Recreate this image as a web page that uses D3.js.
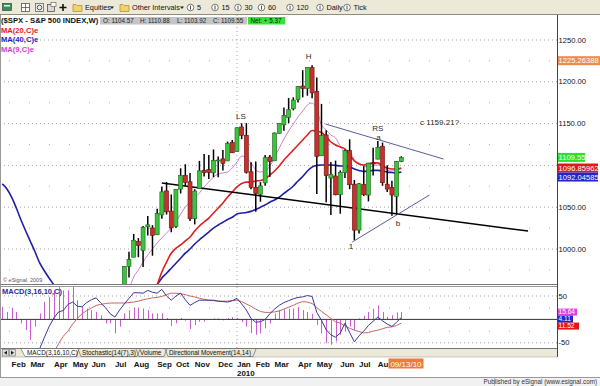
<!DOCTYPE html>
<html>
<head>
<meta charset="utf-8">
<script src="https://cdn.jsdelivr.net/npm/d3@7"></script>
<style>
  html, body { margin: 0; padding: 0; background: #fff; }
  svg { display: block; font-family: "Liberation Sans", Arial, sans-serif; }
</style>
</head>
<body>
<svg id="chart" width="600" height="386"></svg>
<script>
const studyStart = '2009-01-19'
const barStart = '2009-07-20'
const lastBar = '2010-09-06'
const cursorDate = '2010-09-13'

const opens = [940.2, 979.3, 990.2, 1008.9, 998.2, 1026.6, 1025.2, 1017.0, 1040.8, 1069.5,
  1045.4, 1026.9, 1071.6, 1088.2, 1080.4, 1036.2, 1072.3, 1094.1, 1094.9, 1091.1,
  1105.5, 1107.8, 1105.3, 1127.5, 1116.6, 1146.0, 1136.0, 1092.4, 1073.9, 1065.5,
  1079.1, 1110.0, 1105.4, 1138.4, 1148.5, 1157.3, 1167.7, 1178.7, 1194.9, 1192.1,
  1217.1, 1188.6, 1111.5, 1136.5, 1084.8, 1087.3, 1064.9, 1091.2, 1117.7, 1077.5,
  1022.6, 1077.2, 1064.5, 1102.9, 1107.5, 1122.8, 1077.6, 1073.4, 1062.9, 1104.6]
const highs = [979.4, 996.7, 1018.0, 1013.1, 1027.6, 1039.5, 1028.5, 1048.2, 1074.8, 1080.2,
  1065.1, 1071.5, 1096.6, 1101.4, 1091.0, 1071.5, 1105.4, 1113.7, 1112.4, 1119.1,
  1110.7, 1118.4, 1128.5, 1130.4, 1145.4, 1150.4, 1150.5, 1103.7, 1104.7, 1080.0,
  1112.4, 1112.3, 1139.4, 1150.2, 1169.2, 1180.7, 1181.4, 1194.7, 1213.9, 1217.3,
  1219.8, 1205.1, 1173.6, 1141.9, 1104.2, 1105.7, 1094.0, 1119.1, 1131.2, 1082.6,
  1078.9, 1099.1, 1103.1, 1121.0, 1129.2, 1127.3, 1100.1, 1081.6, 1105.1, 1110.9]
const lows = [940.2, 966.0, 990.2, 990.2, 978.5, 1016.2, 992.0, 1017.0, 1036.1, 1041.2,
  1020.0, 1025.2, 1066.4, 1075.5, 1033.4, 1029.4, 1072.3, 1086.8, 1083.7, 1085.9,
  1085.9, 1093.9, 1105.3, 1114.8, 1116.6, 1131.4, 1090.2, 1071.6, 1044.5, 1056.5,
  1075.6, 1086.0, 1105.4, 1138.1, 1141.5, 1150.5, 1165.8, 1175.1, 1181.4, 1183.4,
  1180.3, 1065.8, 1111.5, 1055.9, 1040.8, 1064.2, 1042.2, 1084.8, 1071.5, 1010.9,
  1018.4, 1063.3, 1056.9, 1088.0, 1107.5, 1075.6, 1068.1, 1039.7, 1040.9, 1103.9]
const closes = [979.3, 987.5, 1010.5, 1004.1, 1026.1, 1028.9, 1016.4, 1042.7, 1068.3, 1044.4,
  1025.2, 1071.5, 1087.7, 1079.6, 1036.2, 1069.3, 1093.5, 1091.4, 1091.5, 1106.0,
  1106.4, 1102.5, 1126.5, 1115.1, 1145.0, 1136.0, 1091.8, 1073.9, 1066.2, 1075.5,
  1109.2, 1104.5, 1138.7, 1150.0, 1159.9, 1166.6, 1178.1, 1194.4, 1192.1, 1217.3,
  1186.7, 1110.9, 1135.7, 1087.7, 1089.4, 1064.9, 1091.6, 1117.5, 1076.8, 1022.6,
  1078.0, 1064.9, 1102.7, 1101.6, 1121.6, 1079.3, 1071.7, 1064.6, 1104.5, 1109.6]

// moving averages, one value per week from studyStart (null = not on the chart)
const n = null
const ma9 = [n, n, n, n, n, n, n, n, n, n, n, n, n, n, n, n, n, n, n, n, n, n, n, n, n, n, n,
  951, 966.5, 975, 984.4, 992.8, 1000, 1007.2, 1013.2, 1019.1,
  1025.1, 1032.3, 1041.9, 1050.2, 1056.2, 1061, 1067, 1074.2, 1080.2, 1086.1,
  1089.7, 1091, 1092.2, 1096.9, 1104.1, 1111.2, 1108.9, 1102.9, 1094.5, 1092.1,
  1093.3, 1099.3, 1108.9, 1120.8, 1131.6, 1141.1, 1149.5, 1157.9, 1165, 1172.2,
  1174.6, 1167.5, 1148.3, 1142.3, 1136.4, 1132.8, 1123.2, 1116, 1116, 1106.5,
  1102.9, 1099.3, 1098, 1099.3, 1100.5, 1098, 1094.5, 1093.3, 1094.5, 1095.7]
const ma20 = [n, n, n, n, n, n, n, n, n, n, n, n, n, n, n, n, n, n, n, n, n, n, n, n, n, n, n, n, n, n, n, n, n,
  957, 972.5, 984.4,
  995, 1001, 1004.8, 1009.6, 1014.4, 1021.5, 1027.5, 1032.3, 1037, 1043,
  1049, 1055, 1062.2, 1068.2, 1074.2, 1078.3, 1080, 1080, 1081.3, 1082,
  1083.7, 1088.5, 1093.3, 1099.3, 1106.5, 1112.4, 1118.4, 1124.4, 1130.4, 1136.4,
  1141.7, 1141.1, 1139.3, 1134, 1128, 1124.4, 1122, 1119.6, 1112.4, 1105.3,
  1101.7, 1100.5, 1101.7, 1103, 1103, 1099.3, 1096.9, 1095.7, 1095.7, 1096.86]
const ma40 = [1077.8, 1071.8, 1062, 1049, 1034.7, 1021.5, 1009, 996.4, 983, 973.7, 965, 957, 948,
  n, n, n, n, n, n, n, n, n, n, n, n, n, n, n, n, n, n, n, n,
  957, 965.3, 971,
  977, 983, 989, 995, 1000, 1006, 1011, 1015.6, 1020.3, 1025,
  1028.7, 1032, 1035.3, 1038, 1041.9, 1043, 1043.7, 1045, 1047.2, 1050,
  1052.6, 1056, 1058.6, 1062, 1066.6, 1070.6, 1075.4, 1081.3, 1086.8, 1093.3,
  1098, 1100, 1100.5, 1100.5, 1100.5, 1100, 1099.3, 1099.3, 1098, 1095.7,
  1094, 1092.8, 1093.3, 1094, 1094, 1093.3, 1092, 1091.5, 1091, 1092]

// MACD(3,16,10,C), one value per week from studyStart
const macdHist = [26.8, 16, 25, 16, -8.5, -22.6, -43.8, -15.5, 12.7, 37.4, 48, 62, 69, 62, 62, 69, 41,
  26.8, 23.3, 19.8, 16.2, 9, -8.5, -8.5, -29.7, -15.5,
  12.7, 19.8, 25.4, 25.4, 23.3, 19.8, 12.7, 12.7, 12.7, 3,
  -14, -8.5, 3, -3, -21, -12, -5, -5, -1.4, 2,
  2, -2, 3, 5, 3, -6, -15.5, -29.7, -33, -29.7,
  -19, -8.5, 12.7, 19.8, 21, 22, 23.3, 26.8, 20, 16,
  12, -12, -30, -51, -54, -47, -33, -26, -15.5, -22.6,
  2, 8, 16, 23, 30, 16, 5.6, 9, 15, 16]
const macdLine = [n, n, n, n, n, n, n, n,
  -62, -38, -15, 3, 16, 19, 32, 37, 28, 27, 36, 42, 46, 35, 25, 12, 5, 20,
  33, 45, 57, 57, 56, 62, 58, 56, 64, 50,
  41, 50, 56, 42, 30, 36, 41, 41, 41, 41,
  39, 38, 37, 40, 45, 33, 20, 2, -6, -5,
  0, 12, 22, 30, 36, 40, 44, 47, 48, 51,
  49, 15, -2, -22, -33, -38, -29, -8, -28, -48,
  -35, -25, -13, -4, 5, -3, -10, -15, -6, 4]
const signalLine = [n, n, n, n, n, n, n, n, n, n, n,
  -70, -52, -36, -25, -10, 2, 12, 19, 24, 30, 32, 34, 35, 35, 35,
  35, 36, 37, 39, 42, 44, 46, 47, 49, 53,
  56, 56, 55, 53, 50, 48, 45, 43, 41, 40,
  39, 39, 39, 40, 41, 38, 33, 28, 22, 17,
  15, 15, 16, 18, 22, 26, 30, 35, 38, 37,
  34, 25, 17, 10, 2, -5, -8, -14, -19, -23,
  -26, -29, -28, -25, -23, -20, -17, -16, -13, -8]

const priceTicks = [1000, 1050, 1100, 1150, 1200, 1250]
const priceLabels = [1000, 1050, 1150, 1200, 1250] // 1100 sits under the value boxes
const macdTicks = [-50, 50]

// hand-drawn studies and notes on the chart
const trendLines = [
  { from: ['2009-09-14', 1079], to: ['2011-03-14', 1021.5], color: '#000', width: 1.5 },
  { from: ['2010-05-16', 1149.5], to: ['2010-11-08', 1107.6], color: '#5b5ba3', width: 1 },
  { from: ['2010-06-25', 1008.4], to: ['2010-10-18', 1064.6], color: '#5b5ba3', width: 1 }
]
const notes = [
  { text: 'LS', date: '2010-01-10', price: 1159, anchor: 'middle' },
  { text: 'H', date: '2010-04-21', price: 1231, anchor: 'middle' },
  { text: 'RS', date: '2010-08-02', price: 1144, anchor: 'middle' },
  { text: 'a', date: '2010-08-03', price: 1134, anchor: 'middle' },
  { text: 'b', date: '2010-09-01', price: 1031, anchor: 'middle' },
  { text: '1', date: '2010-06-23', price: 1003, anchor: 'middle' },
  { text: 'c 1159.21?', date: '2010-10-04', price: 1152, anchor: 'start' }
]
const priceBoxes = [
  { text: '1225.26388', value: 1225.26388, fill: '#f28a4e', w: 43 },
  { text: '1109.55', value: 1109.55, fill: '#2ee02e', w: 27 },
  { text: '1096.85962', value: 1096.86, fill: '#e01818', w: 40 },
  { text: '1092.04585', value: 1092.0, fill: '#2424c8', w: 40 }
]
const macdBoxes = [
  { text: '15.64', value: 15.64, fill: '#e040e0', w: 19 },
  { text: '4.11', value: 4.11, fill: '#2424c8', w: 15 },
  { text: '11.52', value: -11.52, fill: '#e01818', w: 21 }
]

// ---- setup ----
const parse = d3.timeParse('%Y-%m-%d')
const W = 600
const H = 386
const plotRight = 557
const pricePane = { top: 15, bottom: 284 }
const macdPane = { top: 286, bottom: 348 }

const studyWeeks = d3.timeMonday.range(parse(studyStart), d3.timeDay.offset(parse(lastBar), 1))
const barWeeks = d3.timeMonday.range(parse(barStart), d3.timeDay.offset(parse(lastBar), 1))

const x = d3.scaleTime()
  .domain([parse(barStart), parse(lastBar)])
  .range([124.3, 401.3])
const yPrice = d3.scaleLinear().domain([1000, 1250]).range([249, 40])
const yMacd = d3.scaleLinear().domain([-50, 50]).range([342.8, 296])

const svg = d3.select('#chart')
svg.append('rect').attr('width', W).attr('height', H).attr('fill', '#fff')

const defs = svg.append('defs')
defs.append('clipPath').attr('id', 'clipPrice').append('rect')
  .attr('x', 0).attr('y', pricePane.top).attr('width', plotRight).attr('height', pricePane.bottom - pricePane.top)
defs.append('clipPath').attr('id', 'clipMacd').append('rect')
  .attr('x', 0).attr('y', macdPane.top).attr('width', plotRight).attr('height', macdPane.bottom - macdPane.top)

drawToolbar()
drawGrid()
drawPricePane()
drawMacdPane()
drawRightAxis()
drawBottom()
drawHeader()

// ---- toolbar ----
function drawToolbar () {
  const g = svg.append('g')
  g.append('rect').attr('width', W).attr('height', 15).attr('fill', '#ece9d8')
  g.append('line').attr('x1', 0).attr('x2', W).attr('y1', 14.5).attr('y2', 14.5).attr('stroke', '#8f8c7e')

  // chart icon
  g.append('rect').attr('x', 2.5).attr('y', 3.5).attr('width', 9).attr('height', 7).attr('fill', '#3d8d55').attr('stroke', '#234').attr('stroke-width', 0.6)
  g.append('rect').attr('x', 4).attr('y', 5).attr('width', 6).attr('height', 1.5).attr('fill', '#cfe')
  // grid icon
  g.append('rect').attr('x', 21.5).attr('y', 3.5).attr('width', 8).attr('height', 8).attr('fill', '#fff').attr('stroke', '#555').attr('stroke-width', 0.8)
  g.append('path').attr('d', 'M25.5,3.5V11.5M21.5,7.5H29.5').attr('stroke', '#555').attr('stroke-width', 0.8)
  // refresh-ish icon
  g.append('rect').attr('x', 35.5).attr('y', 3.5).attr('width', 8).attr('height', 8).attr('fill', '#eee').attr('stroke', '#666').attr('stroke-width', 0.8)
  g.append('circle').attr('cx', 39.5).attr('cy', 7.5).attr('r', 2.3).attr('fill', 'none').attr('stroke', '#444').attr('stroke-width', 0.9)
  // page icon
  g.append('rect').attr('x', 47.5).attr('y', 4.5).attr('width', 7).attr('height', 7).attr('fill', '#d8d8d8').attr('stroke', '#555').attr('stroke-width', 0.8)
  g.append('rect').attr('x', 51).attr('y', 2.5).attr('width', 5).attr('height', 4).attr('fill', '#fff').attr('stroke', '#555').attr('stroke-width', 0.6)
  // plus
  g.append('path').attr('d', 'M63,4V11M59.5,7.5H66.5').attr('stroke', '#111').attr('stroke-width', 1.6)

  const folder = (fx) => {
    g.append('path')
      .attr('d', `M${fx},4.5h3l1,1h5v6h-9z`)
      .attr('fill', '#f4d26a').attr('stroke', '#a88a2a').attr('stroke-width', 0.7)
  }
  const toolText = (tx, t) => g.append('text').attr('x', tx).attr('y', 10).attr('font-size', 7.3).attr('fill', '#111').text(t)
  const arrow = (ax) => g.append('path').attr('d', `M${ax},6.5h4l-2,2.5z`).attr('fill', '#222')

  folder(73)
  toolText(85, 'Equities')
  arrow(110)
  folder(120)
  toolText(132, 'Other Intervals')
  arrow(180)

  const intervals = [['5', 190.5], ['15', 215], ['30', 238], ['60', 261.5], ['120', 290], ['Daily', 320], ['Tick', 347]]
  intervals.forEach(([t, cx]) => {
    g.append('circle').attr('cx', cx).attr('cy', 7.5).attr('r', 3.3).attr('fill', '#fff').attr('stroke', '#444').attr('stroke-width', 0.7)
    g.append('line').attr('x1', cx).attr('x2', cx).attr('y1', 5.6).attr('y2', 9.6).attr('stroke', '#222').attr('stroke-width', 0.8)
    toolText(cx + 6.5, t)
  })
}

// ---- grid ----
function drawGrid () {
  const g = svg.append('g')
  // price pane major rows
  priceTicks.forEach(v => {
    g.append('line').attr('x1', 0).attr('x2', plotRight).attr('y1', yPrice(v)).attr('y2', yPrice(v))
      .attr('stroke', '#8a8a8a').attr('stroke-width', 0.8).attr('stroke-dasharray', '1,3')
  })
  // sparse minor rows
  d3.range(975, 1250, 50).forEach(v => {
    g.append('line').attr('x1', 9).attr('x2', plotRight).attr('y1', yPrice(v)).attr('y2', yPrice(v))
      .attr('stroke', '#a0a0a0').attr('stroke-width', 0.8).attr('stroke-dasharray', '1,19')
  })
  // macd rows
  macdTicks.forEach(v => {
    g.append('line').attr('x1', 0).attr('x2', plotRight).attr('y1', yMacd(v)).attr('y2', yMacd(v))
      .attr('stroke', '#8a8a8a').attr('stroke-width', 0.8).attr('stroke-dasharray', '1,3')
  })
  ;[-25, 25].forEach(v => {
    g.append('line').attr('x1', 9).attr('x2', plotRight).attr('y1', yMacd(v)).attr('y2', yMacd(v))
      .attr('stroke', '#a0a0a0').attr('stroke-width', 0.8).attr('stroke-dasharray', '1,19')
  })
  // year separator
  const yearX = x(d3.timeMonday.ceil(parse('2010-01-01')))
  g.append('line').attr('x1', yearX).attr('x2', yearX).attr('y1', pricePane.top).attr('y2', macdPane.bottom)
    .attr('stroke', '#8a8a8a').attr('stroke-width', 0.8).attr('stroke-dasharray', '1,3')
}

// ---- price pane ----
function drawPricePane () {
  const g = svg.append('g').attr('clip-path', 'url(#clipPrice)')

  const maLine = (values, color, width) => {
    const line = d3.line()
      .defined(d => d != null)
      .curve(d3.curveMonotoneX)
      .x((d, i) => x(studyWeeks[i]))
      .y(d => yPrice(d))
    g.append('path').datum(values).attr('d', line)
      .attr('fill', 'none').attr('stroke', color).attr('stroke-width', width)
  }
  maLine(ma9, '#cc80cc', 1)
  maLine(ma40, '#1f1fa5', 1.6)
  maLine(ma20, '#dd1f1f', 1.6)

  trendLines.forEach(t => {
    g.append('line')
      .attr('x1', x(parse(t.from[0]))).attr('y1', yPrice(t.from[1]))
      .attr('x2', x(parse(t.to[0]))).attr('y2', yPrice(t.to[1]))
      .attr('stroke', t.color).attr('stroke-width', t.width)
  })

  const bars = barWeeks.map((d, i) => ({ date: d, o: opens[i], h: highs[i], l: lows[i], c: closes[i] }))
  const candle = g.selectAll('g.candle').data(bars).join('g').attr('class', 'candle')
  candle.append('line')
    .attr('x1', d => x(d.date)).attr('x2', d => x(d.date))
    .attr('y1', d => yPrice(d.h)).attr('y2', d => yPrice(d.l))
    .attr('stroke', '#000').attr('stroke-width', 1.5)
  candle.append('rect')
    .attr('x', d => x(d.date) - 2)
    .attr('width', 4)
    .attr('y', d => yPrice(Math.max(d.o, d.c)))
    .attr('height', d => Math.max(1, Math.abs(yPrice(d.o) - yPrice(d.c))))
    .attr('fill', d => d.c >= d.o ? '#3cc43c' : '#c8302b')
    .attr('stroke', d => d.c >= d.o ? '#1f5f1f' : '#6b1010')
    .attr('stroke-width', 0.6)

  notes.forEach(nt => {
    g.append('text')
      .attr('x', x(parse(nt.date))).attr('y', yPrice(nt.price))
      .attr('dy', '0.35em')
      .attr('text-anchor', nt.anchor)
      .attr('font-size', 8).attr('fill', '#2a2a2a')
      .text(nt.text)
  })

  svg.append('text').attr('x', 3).attr('y', 282).attr('font-size', 5.5).attr('fill', '#555').text('© eSignal, 2009')
  svg.append('line').attr('x1', 0).attr('x2', plotRight).attr('y1', pricePane.bottom + 0.5).attr('y2', pricePane.bottom + 0.5)
    .attr('stroke', '#777').attr('stroke-width', 1)
}

// ---- macd pane ----
function drawMacdPane () {
  const g = svg.append('g').attr('clip-path', 'url(#clipMacd)')
  svg.append('line').attr('x1', 0).attr('x2', plotRight).attr('y1', macdPane.top + 0.5).attr('y2', macdPane.top + 0.5)
    .attr('stroke', '#999').attr('stroke-width', 1)

  g.selectAll('line.hist').data(macdHist).join('line').attr('class', 'hist')
    .attr('x1', (d, i) => Math.round(x(studyWeeks[i])) + 0.5)
    .attr('x2', (d, i) => Math.round(x(studyWeeks[i])) + 0.5)
    .attr('y1', yMacd(0)).attr('y2', d => yMacd(d))
    .attr('stroke', '#c95fcf').attr('stroke-width', 1)

  g.append('line').attr('x1', 0).attr('x2', plotRight).attr('y1', yMacd(0)).attr('y2', yMacd(0))
    .attr('stroke', '#333').attr('stroke-width', 1)

  const line = d3.line()
    .defined(d => d != null)
    .x((d, i) => x(studyWeeks[i]))
    .y(d => yMacd(d))
  g.append('path').datum(signalLine).attr('d', line).attr('fill', 'none').attr('stroke', '#c86464').attr('stroke-width', 1)
  g.append('path').datum(macdLine).attr('d', line).attr('fill', 'none').attr('stroke', '#37379b').attr('stroke-width', 1)

  svg.append('text').attr('x', 2).attr('y', 294).attr('font-size', 7.5).attr('font-weight', 'bold')
    .attr('fill', '#2b2ba8').text('MACD(3,16,10,C)')
  svg.append('line').attr('x1', 0).attr('x2', plotRight).attr('y1', macdPane.bottom + 0.5).attr('y2', macdPane.bottom + 0.5)
    .attr('stroke', '#777').attr('stroke-width', 1)
}

// ---- right axis and value boxes ----
function drawRightAxis () {
  const g = svg.append('g')
  g.append('line').attr('x1', plotRight + 0.5).attr('x2', plotRight + 0.5).attr('y1', pricePane.top).attr('y2', 357)
    .attr('stroke', '#444').attr('stroke-width', 1)

  priceLabels.forEach(v => {
    g.append('text').attr('x', plotRight + 1.5).attr('y', yPrice(v)).attr('dy', '0.35em')
      .attr('font-size', 7.6).attr('fill', '#111').text(d3.format('.2f')(v))
  })
  macdTicks.forEach(v => {
    g.append('text').attr('x', plotRight + 1.5).attr('y', yMacd(v)).attr('dy', '0.35em')
      .attr('font-size', 7.6).attr('fill', '#111').text(v)
  })

  // value boxes are stacked so that they do not cover one another
  const stack = (boxes, scale, h, fs) => {
    let lastBottom = -Infinity
    boxes.forEach(b => {
      const cy = Math.max(scale(b.value), lastBottom + h / 2)
      lastBottom = cy + h / 2
      g.append('rect').attr('x', plotRight + 1).attr('y', cy - h / 2).attr('width', b.w).attr('height', h).attr('fill', b.fill)
      g.append('text').attr('x', plotRight + 1.5).attr('y', cy).attr('dy', '0.35em')
        .attr('font-size', fs).attr('fill', '#fff').text(b.text)
    })
  }
  stack(priceBoxes, yPrice, 9, 7.6)
  stack(macdBoxes, yMacd, 7, 6.6)
}

// ---- tabs, time axis, footer ----
function drawBottom () {
  const g = svg.append('g')
  g.append('rect').attr('x', 0).attr('y', 349).attr('width', plotRight).attr('height', 8).attr('fill', '#ece9d8')
  g.append('line').attr('x1', 0).attr('x2', plotRight).attr('y1', 357).attr('y2', 357).attr('stroke', '#aaa').attr('stroke-width', 0.6)
  // scroll buttons
  g.append('rect').attr('x', 2.5).attr('y', 349.5).attr('width', 6).attr('height', 6.5).attr('fill', '#ddd').attr('stroke', '#777').attr('stroke-width', 0.6)
  g.append('rect').attr('x', 9.5).attr('y', 349.5).attr('width', 6).attr('height', 6.5).attr('fill', '#ddd').attr('stroke', '#777').attr('stroke-width', 0.6)
  g.append('path').attr('d', 'M4,352.8l3,-2v4z').attr('fill', '#222')
  g.append('path').attr('d', 'M14,352.8l-3,-2v4z').attr('fill', '#222')

  const tabs = [['MACD(3,16,10,C)', 27, 76], ['Stochastic(14(7),3)', 82, 137], ['Volume', 140, 164], ['Directional Movement(14,14)', 169, 253]]
  g.append('path').attr('d', `M${tabs[0][1] - 6},349L${tabs[0][1] - 2},356.5H${tabs[0][2]}L${tabs[0][2] + 3},349`)
    .attr('fill', '#fff').attr('stroke', '#555').attr('stroke-width', 0.6)
  tabs.forEach(([t, tx, ex], i) => {
    if (i > 0) {
      g.append('path').attr('d', `M${tx - 4},349L${tx - 1},356.5H${ex}L${ex + 3},349`)
        .attr('fill', 'none').attr('stroke', '#555').attr('stroke-width', 0.6)
    }
    g.append('text').attr('x', tx).attr('y', 355.3).attr('font-size', 6.4).attr('fill', '#111').text(t)
  })

  // cursor date box position
  const cx = x(parse(cursorDate))
  const boxLeft = cx - 17.5

  // month labels (a label running under the cursor box is cut short, as on screen)
  const fmt = d3.timeFormat('%b')
  const months = d3.timeMonth.range(parse('2009-02-01'), parse('2010-09-01'))
  months.forEach(m => {
    const mx = x(d3.timeMonday.ceil(m))
    const label = mx + 15 > boxLeft ? fmt(m).slice(0, 2) : fmt(m)
    g.append('text').attr('x', mx).attr('y', 367).attr('font-size', 8).attr('font-weight', 'bold')
      .attr('fill', '#111').text(label)
    if (m.getMonth() === 0) {
      g.append('text').attr('x', mx).attr('y', 376).attr('font-size', 8).attr('font-weight', 'bold')
        .attr('fill', '#111').text(m.getFullYear())
    }
  })
  g.append('rect').attr('x', boxLeft).attr('y', 358.5).attr('width', 35).attr('height', 10).attr('fill', '#f07a36')
  g.append('text').attr('x', cx).attr('y', 366.6).attr('text-anchor', 'middle').attr('font-size', 8)
    .attr('fill', '#fff').text('09/13/10')

  // footer
  g.append('rect').attr('x', 0).attr('y', 378).attr('width', W).attr('height', 8).attr('fill', '#f1f1f1')
  g.append('line').attr('x1', 0).attr('x2', W).attr('y1', 377.5).attr('y2', 377.5).attr('stroke', '#999')
  g.append('line').attr('x1', 494.5).attr('x2', 494.5).attr('y1', 378).attr('y2', 386).attr('stroke', '#bbb')
  g.append('text').attr('x', 597).attr('y', 384.3).attr('text-anchor', 'end').attr('font-size', 6.3)
    .attr('fill', '#333').text('Published by eSignal (www.esignal.com)')
  g.append('line').attr('x1', 0.5).attr('x2', 0.5).attr('y1', 15).attr('y2', 378).attr('stroke', '#999')
}

// ---- header text ----
function drawHeader () {
  const g = svg.append('g')
  g.append('text').attr('x', 1).attr('y', 23).attr('font-size', 7.7).attr('font-weight', 'bold')
    .attr('fill', '#111').text('($SPX - S&P 500 INDEX,W)')
  g.append('rect').attr('x', 100).attr('y', 17).attr('width', 147).attr('height', 7.5).attr('fill', '#c4c4c4')
  ;[['O: 1104.57', 103], ['H: 1110.88', 140], ['L: 1103.92', 177], ['C: 1109.55', 213]].forEach(([t, tx]) => {
    g.append('text').attr('x', tx).attr('y', 23).attr('font-size', 6.3).attr('fill', '#222').text(t)
  })
  g.append('rect').attr('x', 248).attr('y', 17).attr('width', 37).attr('height', 7.5).attr('fill', '#2fe82f')
  g.append('text').attr('x', 250.5).attr('y', 23).attr('font-size', 6.3).attr('fill', '#111').text('Net: + 5.37')

  ;[['MA(20,C)e', '#e02020', 32.5], ['MA(40,C)e', '#2222c0', 42], ['MA(9,C)e', '#d040d0', 51.5]].forEach(([t, c, ty]) => {
    g.append('text').attr('x', 1).attr('y', ty).attr('font-size', 7.6).attr('font-weight', 'bold')
      .attr('fill', c).text(t)
  })
}
</script>
</body>
</html>
